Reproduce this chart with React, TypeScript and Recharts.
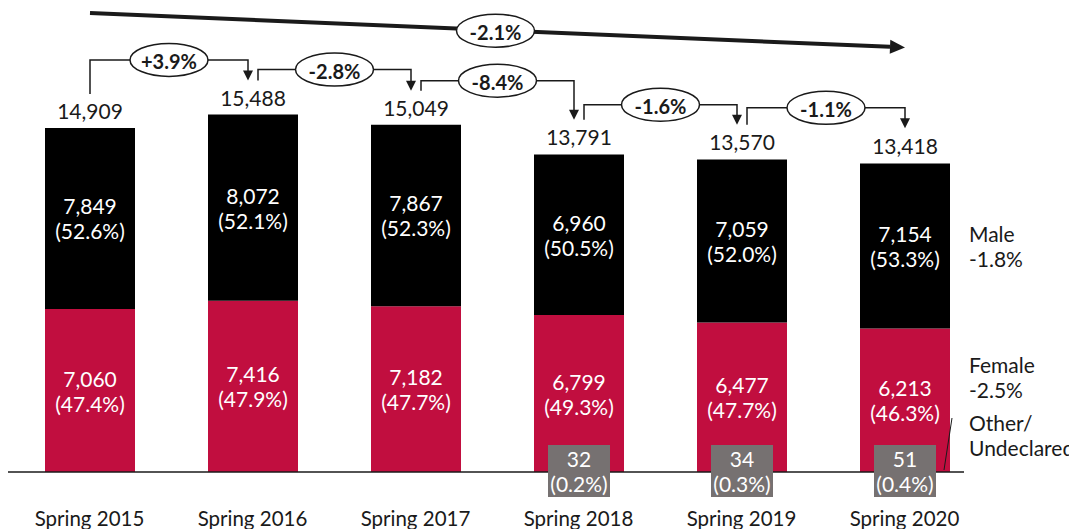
import React from 'react';
import { BarChart, Bar, XAxis, YAxis, LabelList } from 'recharts';

const terms = ['Spring 2015', 'Spring 2016', 'Spring 2017', 'Spring 2018', 'Spring 2019', 'Spring 2020'];
const maleValues = [7849, 8072, 7867, 6960, 7059, 7154];
const malePct = ['52.6%', '52.1%', '52.3%', '50.5%', '52.0%', '53.3%'];
const femaleValues = [7060, 7416, 7182, 6799, 6477, 6213];
const femalePct = ['47.4%', '47.9%', '47.7%', '49.3%', '47.7%', '46.3%'];
const otherValues: (number | null)[] = [null, null, null, 32, 34, 51];
const otherPct: (string | null)[] = [null, null, null, '0.2%', '0.3%', '0.4%'];
const totals = [14909, 15488, 15049, 13791, 13570, 13418];
const yearChange = ['+3.9%', '-2.8%', '-8.4%', '-1.6%', '-1.1%'];
const overallChange = '-2.1%';
const maleNote = ['Male', '-1.8%'];
const femaleNote = ['Female', '-2.5%'];
const otherNote = ['Other/', 'Undeclared'];

const data = terms.map((term, i) => ({
  term,
  male: maleValues[i],
  female: femaleValues[i],
}));

// layout
const W = 1069;
const H = 529;
const MARGIN = { top: 0, right: 83, bottom: 0, left: 8 };
const X_AXIS_H = 57;
const STEP = (W - MARGIN.left - MARGIN.right) / terms.length;
const FONT = 'Lato, "Open Sans", sans-serif';
const FS = 21;
const RED = '#C10E3F';
const GREY = '#767171';
const INK = '#1a1a1a';
const bracketRise = [34, 11, 10, 15, 17];

const fmt = (v: number) => v.toLocaleString('en-US');

const Oval = ({ cx, cy, text }: { cx: number; cy: number; text: string }) => (
  <g>
    <ellipse cx={cx} cy={cy} rx={39} ry={16.5} fill="#fff" stroke={INK} strokeWidth={1.5} />
    <text x={cx} y={cy + 1} textAnchor="middle" dominantBaseline="central" fontFamily={FONT} fontWeight="bold" fontSize={20} fill={INK}>
      {text}
    </text>
  </g>
);

const TwoLines = ({ x, y, a, b, fill, size = FS, anchor = 'middle' }: any) => (
  <text textAnchor={anchor} fontFamily={FONT} fontSize={size} fill={fill}>
    <tspan x={x} y={y - 12.5} dominantBaseline="central">{a}</tspan>
    <tspan x={x} y={y + 12.5} dominantBaseline="central">{b}</tspan>
  </text>
);

const MaleLabel = (props: any) => {
  const i = props.index;
  const x = Number(props.x);
  const y = Number(props.y);
  const w = Number(props.width);
  const h = Number(props.height);
  const ppu = h / maleValues[i];
  const base = y + h + femaleValues[i] * ppu;
  const cx = x + w / 2;
  const top = base - totals[i] * ppu;
  const parts: React.ReactNode[] = [];

  parts.push(<TwoLines key="m" x={cx} y={y + h / 2} a={fmt(maleValues[i])} b={`(${malePct[i]})`} fill="#fff" />);
  parts.push(
    <text key="t" x={cx} y={top - 17} textAnchor="middle" dominantBaseline="central" fontFamily={FONT} fontSize={FS} fill={INK}>
      {fmt(totals[i])}
    </text>
  );

  if (i < terms.length - 1) {
    const nextTop = base - totals[i + 1] * ppu;
    const x0 = cx + (i === 0 ? 0 : 5);
    const x1 = cx + STEP - (i + 1 === terms.length - 1 ? 0 : 5);
    const y0 = top - 34;
    const lvl = y0 - bracketRise[i];
    const y1 = nextTop - 34;
    parts.push(
      <g key="b">
        <polyline points={`${x0},${y0} ${x0},${lvl} ${x1},${lvl} ${x1},${y1 - 9}`} fill="none" stroke={INK} strokeWidth={1.5} />
        <polygon points={`${x1 - 5},${y1 - 10} ${x1 + 5},${y1 - 10} ${x1},${y1}`} fill={INK} />
        <Oval cx={(x0 + x1) / 2} cy={lvl} text={yearChange[i]} />
      </g>
    );
  }

  if (i === 0) {
    const xs = cx;
    const xe = cx + STEP * (terms.length - 1);
    const ys = 13;
    const ye = 47.5;
    const len = Math.hypot(xe - xs, ye - ys);
    const ux = (xe - xs) / len;
    const uy = (ye - ys) / len;
    const bx = xe - ux * 15;
    const by = ye - uy * 15;
    const t = 0.5;
    parts.push(
      <g key="trend">
        <line x1={xs} y1={ys} x2={bx} y2={by} stroke={INK} strokeWidth={4} />
        <polygon points={`${xe},${ye} ${bx - uy * 7},${by + ux * 7} ${bx + uy * 7},${by - ux * 7}`} fill={INK} />
        <Oval cx={xs + t * (xe - xs) - 2} cy={ys + t * (ye - ys) + 0.5} text={overallChange} />
      </g>
    );
  }

  if (i === terms.length - 1) {
    parts.push(<TwoLines key="mn" x={x + w + 19} y={y + h / 2} a={maleNote[0]} b={maleNote[1]} fill={INK} anchor="start" />);
  }

  return <g>{parts}</g>;
};

const FemaleLabel = (props: any) => {
  const i = props.index;
  const x = Number(props.x);
  const y = Number(props.y);
  const w = Number(props.width);
  const h = Number(props.height);
  const cx = x + w / 2;
  const base = y + h;
  const parts: React.ReactNode[] = [];

  if (i === 0) {
    parts.push(<line key="axis" x1={MARGIN.left} x2={964} y1={base} y2={base} stroke={INK} strokeWidth={1.5} />);
  }

  parts.push(<TwoLines key="f" x={cx} y={y + h / 2} a={fmt(femaleValues[i])} b={`(${femalePct[i]})`} fill="#fff" />);

  const ov = otherValues[i];
  if (ov != null) {
    parts.push(
      <g key="o">
        <rect x={cx - 31} y={base - 27} width={62} height={52} fill={GREY} />
        <TwoLines x={cx} y={base - 1} a={fmt(ov)} b={`(${otherPct[i]})`} fill="#fff" />
      </g>
    );
  }

  if (i === terms.length - 1) {
    parts.push(<TwoLines key="fn" x={x + w + 19} y={y + h / 2 - 23.5} a={femaleNote[0]} b={femaleNote[1]} fill={INK} anchor="start" />);
    parts.push(<TwoLines key="on" x={x + w + 19} y={base - 37} a={otherNote[0]} b={otherNote[1]} fill={INK} anchor="start" />);
    parts.push(<line key="sl" x1={x + w - 6} y1={base - 2} x2={x + w + 2} y2={base - 54} stroke={INK} strokeWidth={1} />);
  }

  return <g>{parts}</g>;
};

const TermTick = (props: any) => (
  <text x={props.x} y={H - 3} textAnchor="middle" fontFamily={FONT} fontSize={20.5} fill={INK}>
    {props.payload.value}
  </text>
);

export default function App() {
  return (
    <div style={{ position: 'absolute', left: 0, top: 0, width: W, height: H, background: '#fff' }}>
      <BarChart width={W} height={H} data={data} margin={MARGIN}>
        <XAxis dataKey="term" height={X_AXIS_H} axisLine={false} tickLine={false} interval={0} tick={<TermTick />} />
        <YAxis hide domain={[0, 20450]} />
        <Bar dataKey="female" stackId="a" fill={RED} barSize={90} isAnimationActive={false}>
          <LabelList dataKey="female" content={<FemaleLabel />} />
        </Bar>
        <Bar dataKey="male" stackId="a" fill="#000" barSize={90} isAnimationActive={false}>
          <LabelList dataKey="male" content={<MaleLabel />} />
        </Bar>
      </BarChart>
    </div>
  );
}
